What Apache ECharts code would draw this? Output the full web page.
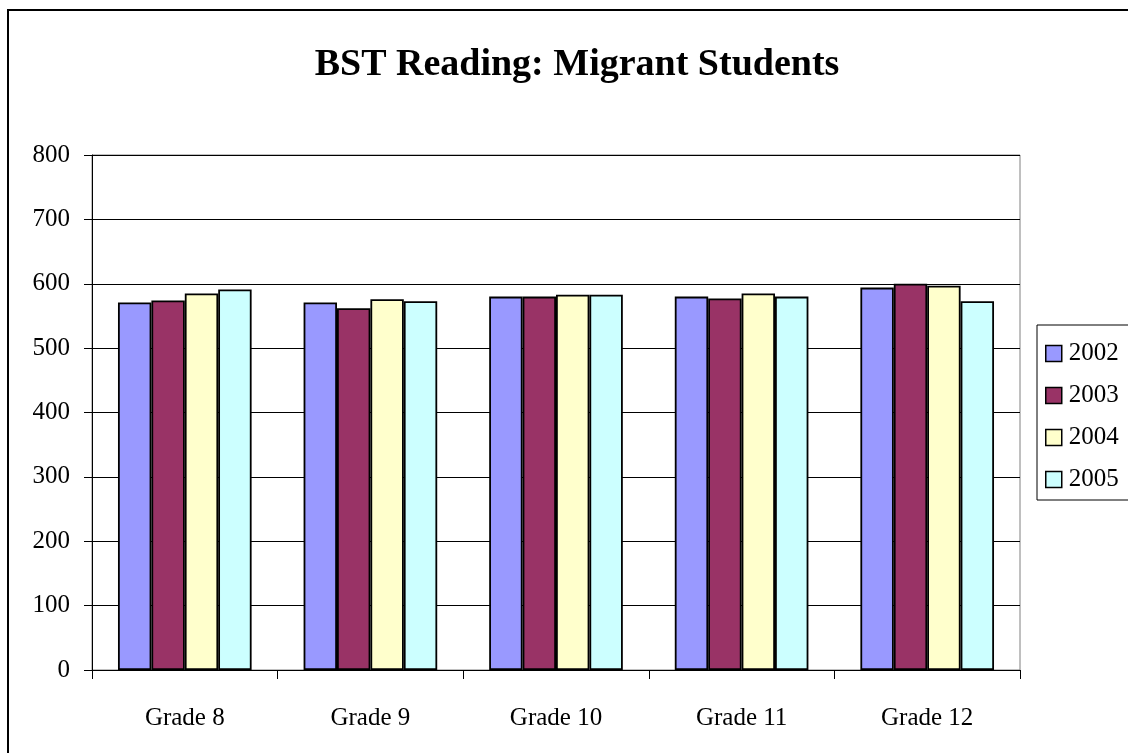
<!DOCTYPE html>
<html>
<head>
<meta charset="utf-8">
<script src="https://cdn.jsdelivr.net/npm/echarts@6/dist/echarts.min.js"></script>
<style>
html,body{margin:0;padding:0;background:#fff;}
#c{width:1128px;height:753px;}
</style>
</head>
<body>
<div id="c"></div>
<script>
const categories = ['Grade 8', 'Grade 9', 'Grade 10', 'Grade 11', 'Grade 12'];
const years = ['2002', '2003', '2004', '2005'];
const s2002 = [571, 571, 580, 580, 594];
const s2003 = [574, 562, 580, 577, 600];
const s2004 = [585, 576, 583, 585, 597];
const s2005 = [591, 573, 583, 580, 573];
const yTicks = [0, 100, 200, 300, 400, 500, 600, 700, 800];

const colors = ['#9999FF', '#993366', '#FFFFCC', '#CCFFFF'];
const seriesData = [s2002, s2003, s2004, s2005];
const font = '"Liberation Serif", "Times New Roman", serif';

const chart = echarts.init(document.getElementById('c'), null, {renderer: 'canvas'});
chart.setOption({
  animation: false,
  backgroundColor: '#fff',
  title: {
    text: 'BST Reading: Migrant Students',
    left: 572, top: 41, textAlign: 'center',
    textStyle: {fontFamily: font, fontSize: 38, fontWeight: 'bold', color: '#000'}
  },
  graphic: [{
    type: 'rect', shape: {x: 8, y: 10, width: 1140, height: 760},
    style: {fill: 'none', stroke: '#000', lineWidth: 2}, silent: true, z: -1
  }],
  legend: {
    orient: 'vertical', left: 1037, top: 325,
    icon: 'rect',
    itemWidth: 16, itemHeight: 16, itemGap: 17,
    padding: [16, 10, 8, 8],
    borderColor: '#000', borderWidth: 1,
    textStyle: {fontFamily: font, fontSize: 25, lineHeight: 25, color: '#000', padding: [0, 0, 0, 2]},
    data: years.map(y => ({name: y, itemStyle: {borderColor: '#000', borderWidth: 1.5}}))
  },
  grid: {left: 92, right: 108, top: 155, bottom: 83, containLabel: false, show: true, borderColor: '#808080', borderWidth: 1},
  xAxis: {
    type: 'category', data: categories,
    axisLine: {lineStyle: {color: '#000', width: 1}},
    axisTick: {show: true, length: 9, inside: false, lineStyle: {color: '#000'}},
    axisLabel: {fontFamily: font, fontSize: 25, color: '#000', margin: 36},
    splitLine: {show: false}
  },
  yAxis: {
    type: 'value', min: 0, max: 800, interval: 100,
    axisLine: {show: true, lineStyle: {color: '#000', width: 1}},
    axisTick: {show: true, length: 8, lineStyle: {color: '#000'}},
    axisLabel: {fontFamily: font, fontSize: 25, color: '#000', margin: 22,
      formatter: v => yTicks.includes(v) ? String(v) : ''},
    splitLine: {show: true, lineStyle: {color: '#000', width: 1}}
  },
  series: years.map((y, i) => ({
    name: y, type: 'bar', data: seriesData[i],
    barGap: '0%', barCategoryGap: '28%',
    itemStyle: {color: colors[i], borderColor: '#000', borderWidth: 1.8}
  }))
});
</script>
</body>
</html>
